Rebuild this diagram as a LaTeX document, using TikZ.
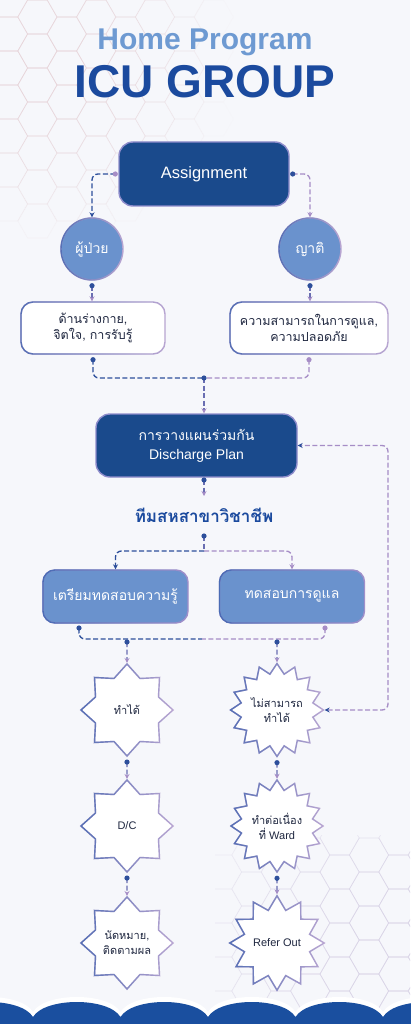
\documentclass[tikz,border=0pt]{standalone}
\usepackage{fontspec}
\setmainfont{Liberation Sans}
\newfontfamily\thai[Script=Thai]{Loma}
\usetikzlibrary{shapes.geometric,arrows.meta,fadings,calc}
\definecolor{bg}{HTML}{F6F7FB}
\definecolor{navy}{HTML}{1A4A8C}
\definecolor{navyb}{HTML}{8E8CCB}
\definecolor{mblue}{HTML}{6A92CD}
\definecolor{tblue}{HTML}{6E9AD2}
\definecolor{dblue}{HTML}{1B4A9E}
\definecolor{cblue}{HTML}{2D4F9B}
\definecolor{cpurp}{HTML}{A68DC6}
\definecolor{cmid}{HTML}{6A6EB2}
\definecolor{bblue}{HTML}{5670B5}
\definecolor{bpurp}{HTML}{B9A6D2}
\definecolor{mbblue}{HTML}{4A6CB5}
\definecolor{mbpurp}{HTML}{A190CB}
\definecolor{txt}{HTML}{1F2740}
\definecolor{hexA}{HTML}{E8D6DB}
\definecolor{hexB}{HTML}{DBD6E8}
\definecolor{wave}{HTML}{1A4F9F}
\newcommand\wavepath[1]{%
(-60,1030) -- (-54.5,#1)
 .. controls (-42.5,#1-20) and (21,#1-20) .. (33,#1)
 .. controls (45,#1-20) and (108.5,#1-20) .. (120.5,#1)
 .. controls (132.5,#1-20) and (196,#1-20) .. (208,#1)
 .. controls (220,#1-20) and (283.5,#1-20) .. (295.5,#1)
 .. controls (307.5,#1-20) and (371,#1-20) .. (383,#1)
 .. controls (395,#1-20) and (458.5,#1-20) .. (470.5,#1)
 -- (470.5,1030) -- cycle}
\begin{document}
\begin{tikzpicture}[x=1pt,y=-1pt,
  arr/.style={-{Stealth[length=5pt,width=5pt,color=#1]}},
  conn/.style={line width=1.3pt, dash pattern=on 5pt off 2.5pt, rounded corners=6pt},
  cnb/.style={conn, draw=cblue},
  cnp/.style={conn, draw=cpurp},
  cnm/.style={conn, draw=cmid},
  gradB/.style={draw=bpurp, line width=1.4pt, postaction={draw=bblue, line width=1.4pt, path fading=east}},
  gradM/.style={draw=mbpurp, line width=1.4pt, postaction={draw=mbblue, line width=1.4pt, path fading=east}},
  navybox/.style={rectangle, rounded corners=14pt, fill=navy, draw=navyb, line width=1.4pt, text=white, align=center},
  wbox/.style={rectangle, rounded corners=12pt, fill=white, gradB, minimum height=52pt, align=center, text=txt, font=\thai\fontsize{12.5}{16}\selectfont},
  mbox/.style={rectangle, rounded corners=12pt, fill=mblue, gradM, minimum width=145pt, minimum height=53pt, text=white, font=\thai\fontsize{14}{17}\selectfont},
  circ/.style={circle, minimum size=62pt, inner sep=0pt, fill=mblue, gradB, text=white, font=\thai\fontsize{14}{17}\selectfont},
  stbase/.style={star, minimum size=92pt, inner sep=0pt, fill=white, gradB, align=center, text=txt, font=\fontsize{11}{15}\selectfont},
  staro/.style={stbase, star points=8, star point ratio=1.35},
  starx/.style={stbase, star points=16, star point ratio=1.27},
  stary/.style={stbase, star points=12, star point ratio=1.4}
]
\useasboundingbox (0,0) rectangle (410,1024);
\fill[bg] (0,0) rectangle (410,1024);
% hexagon patterns
\foreach \i in {-1,...,7}{
  \foreach \j in {-1,...,6}{
    \pgfmathsetmacro\cx{\i*29.4+8}
    \pgfmathsetmacro\cy{\j*34+mod(abs(\i),2)*17}
    \pgfmathsetmacro\dd{veclen(\cx-40,\cy-60)}
    \pgfmathsetmacro\op{max(0,min(1,1.1-\dd/175))}
    \draw[hexA, line width=0.6pt, draw opacity=\op] (\cx+19.6,\cy) -- (\cx+9.8,\cy+17) -- (\cx-9.8,\cy+17) -- (\cx-19.6,\cy) -- (\cx-9.8,\cy-17) -- (\cx+9.8,\cy-17) -- cycle;
  }
}
\begin{scope}
\clip (215,835) rectangle (410,1024);
\foreach \i in {0,...,7}{
  \pgfmathsetmacro\cx{\i*29.4+222}
  \foreach \j in {0,...,5}{
    \pgfmathsetmacro\cy{\j*34+mod(\i,2)*17+838}
    \pgfmathsetmacro\dd{veclen(\cx-400,\cy-960)}
    \pgfmathsetmacro\op{max(0,min(1,1.25-\dd/190))}
    \draw[hexB, line width=0.6pt, draw opacity=\op] (\cx+19.6,\cy) -- (\cx+9.8,\cy+17) -- (\cx-9.8,\cy+17) -- (\cx-19.6,\cy) -- (\cx-9.8,\cy-17) -- (\cx+9.8,\cy-17) -- cycle;
  }
}
\end{scope}
% titles
\node[anchor=base, text=tblue, font=\bfseries\fontsize{30}{34}\selectfont] (t1) at (205,50) {Home Program};
\node[anchor=base, text=dblue, font=\bfseries\fontsize{46}{50}\selectfont] (t2) at (205,98) {ICU GROUP};
% nodes
\node[navybox, minimum width=170pt, minimum height=64pt, font=\fontsize{16.5}{20}\selectfont] (asg) at (204,174) {Assignment};
\node[circ] (pat) at (92,249) {ผู้ป่วย};
\node[circ] (rel) at (310,249) {ญาติ};
\node[wbox, minimum width=144pt] (b1) at (93,328) {ด้านร่างกาย,\\จิตใจ, การรับรู้};
\node[wbox, minimum width=158pt] (b2) at (309,328) {ความสามารถในการดูแล,\\ความปลอดภัย};
\node[navybox, minimum width=201pt, minimum height=63pt, font=\fontsize{14}{19}\selectfont] (plan) at (196.5,445.5) {{\thai การวางแผนร่วมกัน}\\Discharge Plan};
\node[text=dblue, font=\thai\bfseries\fontsize{17}{20}\selectfont] (team) at (204,515) {ทีมสหสาขาวิชาชีพ};
\node[mbox] (m1) at (115.5,596.5) {เตรียมทดสอบความรู้};
\node[mbox] (m2) at (292,596.5) {ทดสอบการดูแล};
\node[staro] (s1) at (127,710) {\thai ทำได้};
\node[staro] (s2) at (127,826) {D/C};
\node[staro] (s3) at (127,943) {\thai นัดหมาย,\\\thai ติดตามผล};
\node[starx] (r1) at (277,710) {\thai ไม่สามารถ\\\thai ทำได้};
\node[starx] (r2) at (277,826) {\thai ทำต่อเนื่อง\\{\thai ที่} Ward};
\node[stary] (r3) at (277,943) {Refer Out};
% connectors
\coordinate (a1) at ($(asg.west)+(-3,0)$);
\coordinate (a2) at ($(asg.east)+(3,0)$);
\draw[cnb, arr=cblue] (a1) -| (pat.north);
\draw[cnp, arr=cpurp] (a2) -| (rel.north);
\fill[cpurp] (a1) circle (2.6);
\fill[cblue] (a2) circle (2.6);
\coordinate (p1) at ($(pat.south)+(0,5)$);
\coordinate (p2) at ($(rel.south)+(0,5)$);
\draw[cnm, arr=cpurp] (p1) -- (p1 |- b1.north);
\draw[cnm, arr=cpurp] (p2) -- (p2 |- b2.north);
\fill[cblue] (p1) circle (2.6);
\fill[cblue] (p2) circle (2.6);
\coordinate (j1) at (204,378);
\coordinate (e1) at ($(b1.south)+(0,5)$);
\coordinate (e2) at ($(b2.south)+(0,5)$);
\draw[cnb] (e1) |- (j1);
\draw[cnp] (e2) |- (j1);
\draw[cnm, arr=cpurp] (j1) -- (j1 |- plan.north);
\fill[cblue] (e1) circle (2.6);
\fill[cpurp] (e2) circle (2.6);
\fill[cblue] (j1) circle (2.6);
\coordinate (g1) at (204,480);
\coordinate (g2) at (204,496);
\draw[cnm, arr=cpurp] (g1) -- (g2);
\fill[cblue] (g1) circle (2.6);
\coordinate (t0) at (204,536);
\coordinate (j2) at (204,551);
\draw[cnm] (t0) -- (j2);
\draw[cnb, arr=cblue] (j2) -| (m1.north);
\draw[cnp, arr=cpurp] (j2) -| (m2.north);
\fill[cblue] (t0) circle (2.6);
\coordinate (q1) at (79,628);
\coordinate (q2) at (325,628);
\coordinate (j3) at (202,639);
\draw[cnb] (q1) |- (j3);
\draw[cnp] (q2) |- (j3);
\fill[cblue] (q1) circle (2.6);
\fill[cpurp] (q2) circle (2.6);
\coordinate (k1) at (127,642);
\coordinate (k2) at (277,642);
\draw[cnm, arr=cpurp] (k1) -- (s1.north);
\draw[cnm, arr=cpurp] (k2) -- (r1.north);
\fill[cblue] (k1) circle (2.6);
\fill[cblue] (k2) circle (2.6);
\foreach \u/\v in {s1/s2, s2/s3, r1/r2, r2/r3}{
  \coordinate (z) at ($(\u.south)+(0,5)$);
  \draw[cnm, arr=cpurp] (z) -- (\v.north);
  \fill[cblue] (z) circle (2.6);
}
\coordinate (fb) at (388,600);
\draw[cnp, {Stealth[length=5pt,width=5pt,color=cblue]}-{Stealth[length=5pt,width=5pt,color=cblue]}] (r1.east) -- (r1.east -| fb) -- (plan.east -| fb) -- (plan.east);
% wave
\fill[white] \wavepath{1012};
\fill[wave] \wavepath{1017};
\end{tikzpicture}
\end{document}
